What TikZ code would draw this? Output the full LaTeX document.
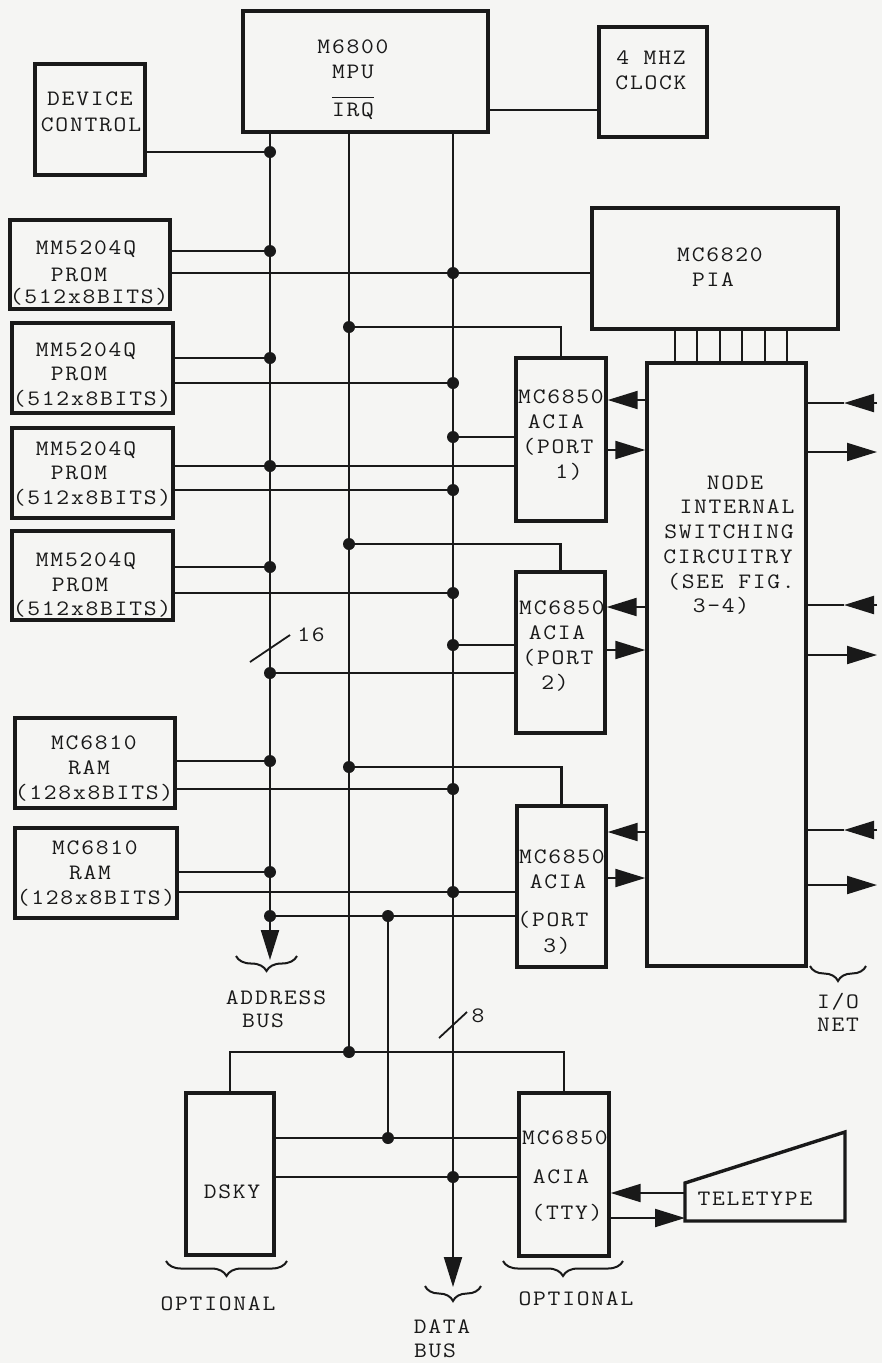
\documentclass[tikz,border=0pt]{standalone}
\usepackage{fontspec}
\setmonofont{Latin Modern Mono}[FakeStretch=1.13,LetterSpace=8]
\usetikzlibrary{arrows.meta,decorations.pathreplacing}
\definecolor{paper}{RGB}{245,245,243}
\definecolor{ink}{RGB}{25,25,25}
\begin{document}
\begin{tikzpicture}[x=1pt,y=-1pt,
  box/.style={draw=ink,line width=3.4pt,inner sep=0pt},
  wire/.style={draw=ink,line width=2.1pt},
  bigtip/.style={-{Triangle[length=30pt,width=18pt]}},
  dotn/.style={circle,fill=ink,inner sep=0pt,minimum size=12pt},
  lbl/.style={text=ink,font=\ttfamily\fontsize{22}{25}\selectfont,inner sep=0pt,text height=13pt,text depth=0pt,anchor=center},
  brc/.style={draw=ink,decorate,decoration={brace,mirror,amplitude=15pt},line width=2pt}
]
\fill[paper] (0,0) rectangle (882,1363);
\useasboundingbox (0,0) rectangle (882,1363);

% ---------- boxes ----------
\node[box,minimum width=245pt,minimum height=121pt] (mpu) at (365.5,71.5) {};
\node[box,minimum width=108pt,minimum height=110pt] (clock) at (653,82) {};
\node[box,minimum width=110pt,minimum height=111pt] (dev) at (90,119.5) {};
\node[box,minimum width=160pt,minimum height=89pt] (prom1) at (90,264.5) {};
\node[box,minimum width=161pt,minimum height=90pt] (prom2) at (92.5,368) {};
\node[box,minimum width=161pt,minimum height=90pt] (prom3) at (92.5,473) {};
\node[box,minimum width=161pt,minimum height=89pt] (prom4) at (92.5,575.5) {};
\node[box,minimum width=246pt,minimum height=121pt] (pia) at (715,268.5) {};
\node[box,minimum width=159pt,minimum height=603pt] (sw) at (726.5,664.5) {};
\node[box,minimum width=90pt,minimum height=163pt] (acia1) at (561,439.5) {};
\node[box,minimum width=89pt,minimum height=161pt] (acia2) at (560.5,652.5) {};
\node[box,minimum width=89pt,minimum height=161pt] (acia3) at (561.5,886.5) {};
\node[box,minimum width=160pt,minimum height=90pt] (ram1) at (95,763) {};
\node[box,minimum width=162pt,minimum height=90pt] (ram2) at (96,873) {};
\node[box,minimum width=88pt,minimum height=162pt] (dsky) at (230,1174) {};
\node[box,minimum width=90pt,minimum height=163pt] (tty) at (564,1174.5) {};
\draw[box,line join=miter] (685,1183) -- (845,1132) -- (845,1221) -- (685,1221) -- cycle;
\coordinate (telA) at (685,1193);
\coordinate (telB) at (685,1218);

% ---------- junction dots ----------
\foreach \n/\y in {a1/152,a2/251,a3/358,a4/466,a5/567,a6/673,a7/761,a8/872,a9/916}
  \node[dotn] (\n) at (270,\y) {};
\foreach \n/\y in {i1/327,i2/544,i3/767,i4/1052}
  \node[dotn] (\n) at (349,\y) {};
\foreach \n/\y in {d1/273,d2/383,d3/437,d4/490,d5/593,d6/645,d7/789,d8/892,d9/1177}
  \node[dotn] (\n) at (453,\y) {};
\node[dotn] (x1) at (388,916) {};
\node[dotn] (x2) at (388,1138) {};
\coordinate (addrend) at (270,960);
\coordinate (dataend) at (453,1287);

% ---------- buses ----------
\draw[wire,bigtip] (mpu.south -| a1) -- (addrend);
\draw[wire] (mpu.south -| i1) -- (i4.center);
\draw[wire,bigtip] (mpu.south -| d1) -- (dataend);

% ---------- connectors ----------
\draw[wire] (mpu.east |- 0,110) -- (clock.west |- 0,110);
\draw[wire] (dev.east |- a1) -- (a1.center);
\draw[wire] (prom1.east |- a2) -- (a2.center);
\draw[wire] (prom1.east |- d1) -- (pia.west |- d1);
\draw[wire] (i1.center) -| (acia1.north);
\draw[wire] (prom2.east |- a3) -- (a3.center);
\draw[wire] (prom2.east |- d2) -- (d2.center);
\draw[wire] (d3.center) -- (acia1.west |- d3);
\draw[wire] (prom3.east |- a4) -- (acia1.west |- a4);
\draw[wire] (prom3.east |- d4) -- (d4.center);
\draw[wire] (i2.center) -| (acia2.north);
\draw[wire] (prom4.east |- a5) -- (a5.center);
\draw[wire] (prom4.east |- d5) -- (d5.center);
\draw[wire] (d6.center) -- (acia2.west |- d6);
\draw[wire] (a6.center) -- (acia2.west |- a6);
\draw[wire] (ram1.east |- a7) -- (a7.center);
\draw[wire] (ram1.east |- d7) -- (d7.center);
\draw[wire] (i3.center) -| (acia3.north);
\draw[wire] (ram2.east |- a8) -- (a8.center);
\draw[wire] (ram2.east |- d8) -- (acia3.west |- d8);
\draw[wire] (a9.center) -- (acia3.west |- a9);
\draw[wire] (x1.center) -- (x2.center);
\draw[wire] (dsky.east |- x2) -- (tty.west |- x2);
\draw[wire] (dsky.east |- d9) -- (tty.west |- d9);
\draw[wire] (dsky.north) |- (tty.north |- i4) -- (tty.north);

% PIA to switching circuitry
\foreach \x in {675,697,720,742,765,787}
  \draw[wire] (pia.south -| \x,0) -- (sw.north -| \x,0);

% ACIA <-> switching
\foreach \a/\u/\v in {acia1/400/450,acia2/607/650,acia3/832/878}{
  \draw[wire,bigtip] (sw.west |- 0,\u) -- (\a.east |- 0,\u);
  \draw[wire,bigtip] (\a.east |- 0,\v) -- (sw.west |- 0,\v);
}
% I/O net
\foreach \k/\u/\v in {1/403/452,2/605/655,3/830/885}{
  \coordinate (in\k) at (844,\u);
  \coordinate (ib\k) at (877,\u);
  \coordinate (out\k) at (877,\v);
  \draw[wire] (sw.east |- in\k) -- (in\k);
  \draw[wire,bigtip] (ib\k) -- (in\k);
  \draw[wire,bigtip] (sw.east |- out\k) -- (out\k);
}
% teletype
\draw[wire,bigtip] (telA) -- (tty.east |- telA);
\draw[wire,bigtip] (tty.east |- telB) -- (telB);

% bus width slashes
\coordinate (s16a) at (250,662); \coordinate (s16b) at (290,635);
\coordinate (s8a) at (439,1038); \coordinate (s8b) at (467,1012);
\draw[wire,line width=1.8pt] (s16a) -- (s16b);
\draw[wire,line width=1.8pt] (s8a) -- (s8b);

% braces
\coordinate (bA1) at (236,956); \coordinate (bA2) at (297,956);
\coordinate (bI1) at (810,966); \coordinate (bI2) at (866,966);
\coordinate (bD1) at (425,1286); \coordinate (bD2) at (481,1286);
\coordinate (bO1) at (166,1261); \coordinate (bO2) at (287,1261);
\coordinate (bP1) at (503,1261); \coordinate (bP2) at (623,1261);
\draw[brc] (bA1) -- (bA2);
\draw[brc] (bI1) -- (bI2);
\draw[brc] (bD1) -- (bD2);
\draw[brc] (bO1) -- (bO2);
\draw[brc] (bP1) -- (bP2);

% ---------- labels ----------
\node[lbl] (t1) at (353,47) {M6800};
\node[lbl] (t2) at (353,72) {MPU};
\node[lbl] (t3) at (353,110) {IRQ};
\draw[ink,line width=1.6pt] ([yshift=6pt]t3.north west) -- ([yshift=6pt]t3.north east);
\node[lbl] (t4) at (651,58) {4 MHZ};
\node[lbl] (t5) at (651,83) {CLOCK};
\node[lbl] (t6) at (90,99) {DEVICE};
\node[lbl] (t7) at (91,125) {CONTROL};
\node[lbl] (t8) at (86,248) {MM5204Q};
\node[lbl] (t9) at (79,275) {PROM};
\node[lbl] (t10) at (89,297) {(512x8BITS)};
\node[lbl] (t11) at (86,350) {MM5204Q};
\node[lbl] (t12) at (79,374) {PROM};
\node[lbl] (t13) at (92,399) {(512x8BITS)};
\node[lbl] (t14) at (86,449) {MM5204Q};
\node[lbl] (t15) at (79,473) {PROM};
\node[lbl] (t16) at (92,498) {(512x8BITS)};
\node[lbl] (t17) at (86,560) {MM5204Q};
\node[lbl] (t18) at (80,585) {PROM};
\node[lbl] (t19) at (92,609) {(512x8BITS)};
\node[lbl] (t20) at (94,743) {MC6810};
\node[lbl] (t21) at (89,768) {RAM};
\node[lbl] (t22) at (94,793) {(128x8BITS)};
\node[lbl] (t23) at (95,848) {MC6810};
\node[lbl] (t24) at (90,873) {RAM};
\node[lbl] (t25) at (96,898) {(128x8BITS)};
\node[lbl] (t26) at (720,255) {MC6820};
\node[lbl] (t27) at (713,280) {PIA};
\node[lbl] (t28) at (735,483) {NODE};
\node[lbl] (t29) at (737,507) {INTERNAL};
\node[lbl] (t30) at (729,532) {SWITCHING};
\node[lbl] (t31) at (728,557) {CIRCUITRY};
\node[lbl] (t32) at (731,582) {(SEE FIG.};
\node[lbl] (t33) at (721,606) {3-4)};
\node[lbl] (t34) at (561,397) {MC6850};
\node[lbl] (t35) at (556,422) {ACIA};
\node[lbl] (t36) at (558,447) {(PORT};
\node[lbl] (t37) at (569,472) {1)};
\node[lbl] (t38) at (562,608) {MC6850};
\node[lbl] (t39) at (557,633) {ACIA};
\node[lbl] (t40) at (558,658) {(PORT};
\node[lbl] (t41) at (555,683) {2)};
\node[lbl] (t42) at (562,857) {MC6850};
\node[lbl] (t43) at (558,882) {ACIA};
\node[lbl] (t44) at (553,920) {(PORT};
\node[lbl] (t45) at (557,946) {3)};
\node[lbl] (t46) at (565,1138) {MC6850};
\node[lbl] (t47) at (561,1177) {ACIA};
\node[lbl] (t48) at (567,1213) {(TTY)};
\node[lbl] (t49) at (232,1192) {DSKY};
\node[lbl] (t50) at (755,1199) {TELETYPE};
\node[lbl] (t51) at (276,998) {ADDRESS};
\node[lbl] (t52) at (263,1021) {BUS};
\node[lbl] (t53) at (838,1002) {I/O};
\node[lbl] (t54) at (838,1025) {NET};
\node[lbl] (t55) at (311,635) {16};
\node[lbl] (t56) at (478,1016) {8};
\node[lbl] (t57) at (442,1327) {DATA};
\node[lbl] (t58) at (435,1351) {BUS};
\node[lbl] (t59) at (218,1304) {OPTIONAL};
\node[lbl] (t60) at (576,1299) {OPTIONAL};
\end{tikzpicture}
\end{document}
